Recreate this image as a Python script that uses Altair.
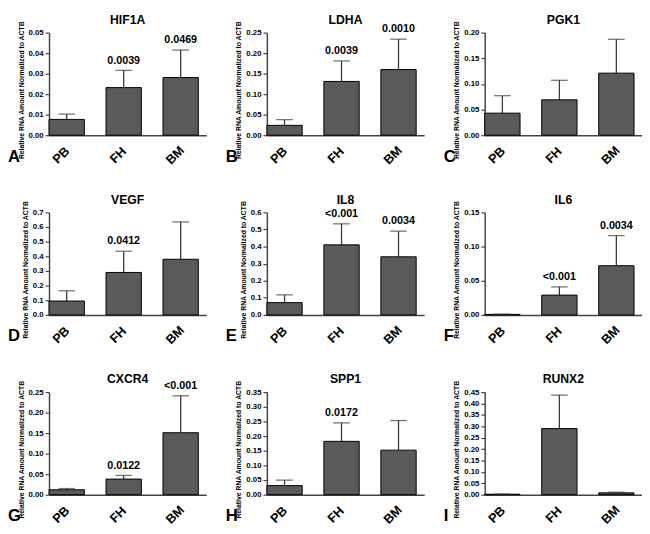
import altair as alt
import pandas as pd

groups = ["PB", "FH", "BM"]
genes = ["HIF1A", "LDHA", "PGK1", "VEGF", "IL8", "IL6", "CXCR4", "SPP1", "RUNX2"]
letters = ["A", "B", "C", "D", "E", "F", "G", "H", "I"]

hif1a_mean = [0.0077, 0.0232, 0.0281]
hif1a_upper = [0.0103, 0.0316, 0.0415]
hif1a_p = ["", "0.0039", "0.0469"]

ldha_mean = [0.024, 0.131, 0.160]
ldha_upper = [0.038, 0.181, 0.234]
ldha_p = ["", "0.0039", "0.0010"]

pgk1_mean = [0.043, 0.069, 0.121]
pgk1_upper = [0.077, 0.107, 0.187]
pgk1_p = ["", "", ""]

vegf_mean = [0.095, 0.29, 0.38]
vegf_upper = [0.165, 0.435, 0.635]
vegf_p = ["", "0.0412", ""]

il8_mean = [0.072, 0.41, 0.34]
il8_upper = [0.117, 0.533, 0.49]
il8_p = ["", "<0.001", "0.0034"]

il6_mean = [0.0008, 0.029, 0.072]
il6_upper = [0.0012, 0.041, 0.116]
il6_p = ["", "<0.001", "0.0034"]

cxcr4_mean = [0.012, 0.038, 0.151]
cxcr4_upper = [0.015, 0.047, 0.241]
cxcr4_p = ["", "0.0122", "<0.001"]

spp1_mean = [0.031, 0.182, 0.152]
spp1_upper = [0.050, 0.245, 0.253]
spp1_p = ["", "0.0172", ""]

runx2_mean = [0.002, 0.29, 0.008]
runx2_upper = [0.003, 0.437, 0.011]
runx2_p = ["", "", ""]

axis_max = [0.05, 0.25, 0.20, 0.7, 0.6, 0.15, 0.25, 0.35, 0.45]
axis_step = [0.01, 0.05, 0.05, 0.1, 0.1, 0.05, 0.05, 0.05, 0.05]
axis_fmt = [".2f", ".2f", ".2f", ".1f", ".1f", ".2f", ".2f", ".2f", ".2f"]

means = [hif1a_mean, ldha_mean, pgk1_mean, vegf_mean, il8_mean, il6_mean,
         cxcr4_mean, spp1_mean, runx2_mean]
uppers = [hif1a_upper, ldha_upper, pgk1_upper, vegf_upper, il8_upper, il6_upper,
          cxcr4_upper, spp1_upper, runx2_upper]
pvals = [hif1a_p, ldha_p, pgk1_p, vegf_p, il8_p, il6_p, cxcr4_p, spp1_p, runx2_p]

W, H = 161, 105
FONT = "Liberation Sans"
YTITLE = "Relative RNA Amount Normalized to ACTB"


def panel(i):
    df = pd.DataFrame({"cat": groups, "mean": means[i], "upper": uppers[i], "p": pvals[i]})
    n = int(round(axis_max[i] / axis_step[i]))
    ticks = [round(k * axis_step[i], 4) for k in range(n + 1)]
    xenc = alt.X("cat:N", sort=groups,
                 scale=alt.Scale(paddingInner=0.38, paddingOuter=0.07, align=0),
                 axis=alt.Axis(title=None, labels=False, ticks=False,
                               domainColor="#444444", domainWidth=1.5))
    yscale = alt.Scale(domain=[0, axis_max[i]], nice=False, zero=True)
    yaxis = alt.Axis(values=ticks, format=axis_fmt[i], title=YTITLE, titleFontSize=7,
                     titleFontWeight="bold", titleColor="black", titlePadding=4, titleFont=FONT,
                     titleY=H / 2 + 6,
                     labelFontSize=8, labelFontWeight="bold", labelColor="black", labelFont=FONT,
                     tickSize=4, tickColor="#444444", tickWidth=1.2, domainColor="#444444",
                     domainWidth=1.5, grid=False, labelPadding=2)
    base = alt.Chart(df)
    bars = base.mark_bar(color="#5a5a5a", stroke="black", strokeWidth=1).encode(
        x=xenc, y=alt.Y("mean:Q", scale=yscale, axis=yaxis))
    rule = base.mark_rule(color="#3a3a3a", strokeWidth=1.3).encode(
        x=xenc, y=alt.Y("mean:Q", scale=yscale, axis=yaxis), y2="upper:Q")
    cap = base.mark_tick(color="#3a3a3a", size=17, thickness=1.3, orient="horizontal").encode(
        x=xenc, y=alt.Y("upper:Q", scale=yscale, axis=yaxis))
    txt = base.mark_text(dy=-5, fontSize=11, fontWeight="bold", font=FONT, color="black",
                         baseline="bottom").encode(
        x=xenc, y=alt.Y("upper:Q", scale=yscale, axis=yaxis), text="p:N")
    xlab = base.mark_text(angle=315, dx=-8, fontSize=13, fontWeight="bold",
                          color="black").encode(
        x=xenc, y=alt.value(H + 15), text="cat:N")
    label_df = pd.DataFrame({"l": [letters[i]], "g": [genes[i]]})
    letter = alt.Chart(label_df).mark_text(
        fontSize=17, fontWeight="bold", font=FONT, align="left", baseline="bottom", color="black").encode(
        x=alt.value(-42), y=alt.value(H + 31), text="l:N")
    gtitle = alt.Chart(label_df).mark_text(
        fontSize=12.5, fontWeight="bold", font=FONT, baseline="bottom", color="black").encode(
        x=alt.value(W / 2), y=alt.value(-6), text="g:N")
    return alt.layer(rule, bars, cap, txt, xlab, letter, gtitle).properties(width=W, height=H)


chart = alt.concat(*[panel(i) for i in range(9)], columns=3,
                   spacing=alt.RowColnumber(row=27, column=20)).properties(
    padding=0, background="white"
).configure_view(stroke=None)

chart.save("out.html", embed_options={"renderer": "svg", "actions": False})
